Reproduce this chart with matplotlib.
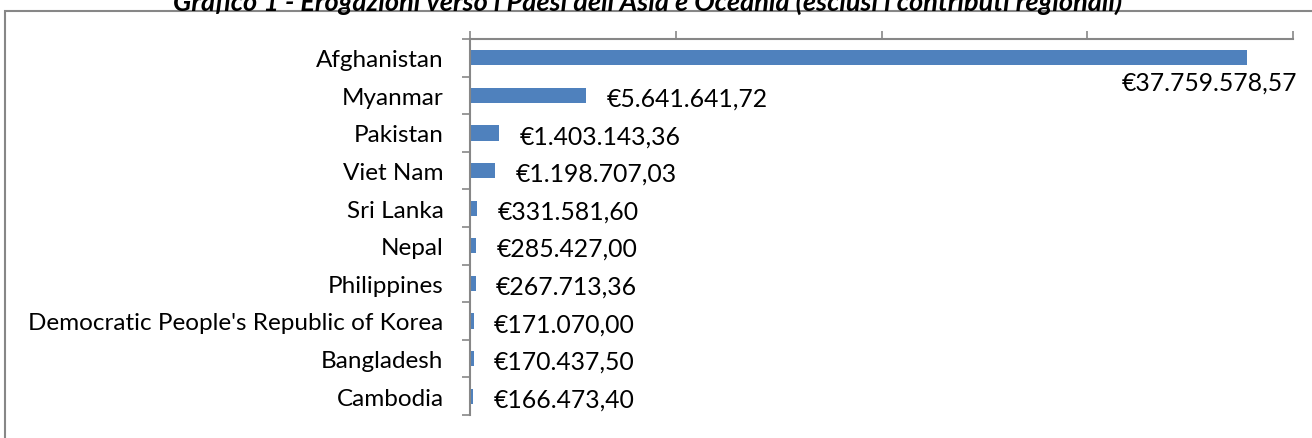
import numpy as np
import matplotlib.pyplot as plt
from matplotlib.patches import Rectangle

paesi = ['Afghanistan', 'Myanmar', 'Pakistan', 'Viet Nam', 'Sri Lanka', 'Nepal',
         'Philippines', "Democratic People's Republic of Korea", 'Bangladesh', 'Cambodia']
valori = [37759578.57, 5641641.72, 1403143.36, 1198707.03, 331581.60, 285427.00,
          267713.36, 171070.00, 170437.50, 166473.40]
etichette = ['€37.759.578,57', '€5.641.641,72', '€1.403.143,36', '€1.198.707,03',
             '€331.581,60', '€285.427,00', '€267.713,36', '€171.070,00',
             '€170.437,50', '€166.473,40']
titolo = "Grafico 1 - Erogazioni verso i Paesi dell'Asia e Oceania (esclusi i contributi regionali)"

plt.rcParams['font.family'] = ['Lato', 'DejaVu Sans']
grigio = '#878787'

fig = plt.figure(figsize=(13.12, 4.39), dpi=100)
ax = fig.add_axes([470 / 1312, 1 - 416 / 439, (1293 - 470) / 1312, (416 - 40) / 439])

y = np.arange(len(paesi))
ax.barh(y, valori, height=0.4, color='#4f81bd')
ax.set_xlim(0, 40e6)
ax.set_ylim(len(paesi) - 0.5, -0.5)

# assi in stile Excel
ax.xaxis.tick_top()
ax.set_xticks([0, 10e6, 20e6, 30e6, 40e6])
ax.set_xticklabels([])
ax.tick_params(axis='x', direction='out', length=6, color=grigio, width=1.2)
ax.set_yticks(y)
ax.set_yticklabels(paesi, fontsize=17.5)
ax.tick_params(axis='y', which='major', length=0, pad=19)
ax.set_yticks(np.arange(len(paesi) + 1) - 0.5, minor=True)
ax.tick_params(axis='y', which='minor', direction='out', length=6, color=grigio, width=1.2)
for s in ['right', 'bottom']:
    ax.spines[s].set_visible(False)
for s in ['left', 'top']:
    ax.spines[s].set_color(grigio)
    ax.spines[s].set_linewidth(1.5)

for i, (v, t) in enumerate(zip(valori, etichette)):
    if i == 0:
        ax.text(40.2e6, i + 0.64, t, ha='right', va='center', fontsize=17.8)
    else:
        ax.text(v + 1.0e6, i + 0.07, t, ha='left', va='center', fontsize=17.8)

# cornice del grafico
fig.patches.append(Rectangle((5 / 1312, -0.1), 1.1, 1 - 12 / 439 + 0.1,
                             transform=fig.transFigure, fill=False,
                             edgecolor=grigio, linewidth=1.5))
fig.text(648 / 1312, 1 - 2 / 439, titolo, ha='center', va='center', fontsize=19.5,
         fontweight='bold', fontstyle='italic')

fig.savefig('out.png', dpi=100)
